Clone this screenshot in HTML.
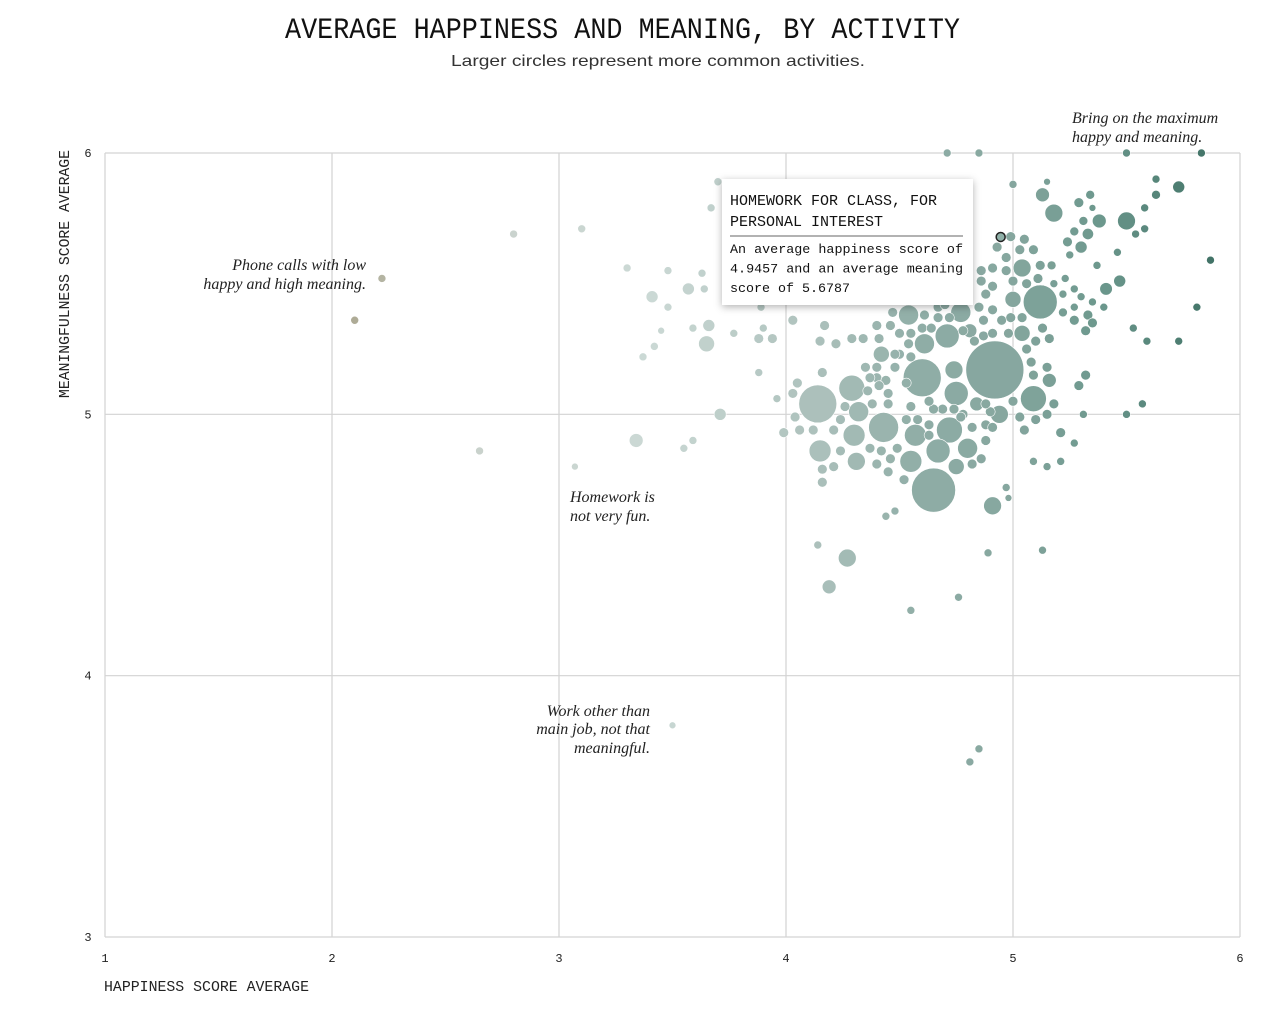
<!DOCTYPE html>
<html><head><meta charset="utf-8">
<style>
html,body{margin:0;padding:0;background:#fff;}
svg{display:block;}
.mono{font-family:"Liberation Mono",monospace;}
.sans{font-family:"Liberation Sans",sans-serif;}
.serif{font-family:"Liberation Serif",serif;font-style:italic;}
</style></head>
<body>
<svg id="chart" width="1280" height="1010" viewBox="0 0 1280 1010" xmlns="http://www.w3.org/2000/svg">
  <text class="mono" x="285" y="38" font-size="30" textLength="675" lengthAdjust="spacingAndGlyphs" fill="#111">AVERAGE HAPPINESS AND MEANING, BY ACTIVITY</text>
  <text class="sans" x="658" y="66" font-size="16" text-anchor="middle" fill="#333" textLength="414" lengthAdjust="spacingAndGlyphs">Larger circles represent more common activities.</text>
  <g id="grid"></g>
  <g id="ticks"></g>
  <text class="mono" font-size="14.5" fill="#222" transform="translate(69,398) rotate(-90)" textLength="248" lengthAdjust="spacingAndGlyphs">MEANINGFULNESS SCORE AVERAGE</text>
  <text class="mono" font-size="14.5" fill="#222" x="104" y="991" textLength="205" lengthAdjust="spacingAndGlyphs">HAPPINESS SCORE AVERAGE</text>
  <g id="dots"></g>
  <g class="serif" font-size="16" fill="#222" text-anchor="end">
    <text x="366" y="270">Phone calls with low</text>
    <text x="366" y="289">happy and high meaning.</text>
  </g>
  <g class="serif" font-size="16" fill="#222">
    <text x="1072" y="123">Bring on the maximum</text>
    <text x="1072" y="142">happy and meaning.</text>
  </g>
  <g class="serif" font-size="16" fill="#222">
    <text x="570" y="502">Homework is</text>
    <text x="570" y="521">not very fun.</text>
  </g>
  <g class="serif" font-size="16" fill="#222" text-anchor="end">
    <text x="650" y="716">Work other than</text>
    <text x="650" y="734">main job, not that</text>
    <text x="650" y="753">meaningful.</text>
  </g>
  <g id="tooltip"></g>
</svg>
<script>
const xTicks = [1, 2, 3, 4, 5, 6];
const yTicks = [3, 4, 5, 6];
const happiness = [
4.92,4.60,4.65,4.14,4.43,4.29,4.32,4.30,4.15,4.31,5.12,5.09,4.72,4.57,4.67,4.75,4.71,4.61,4.55,4.80,
4.74,4.54,5.04,5.00,4.42,4.81,4.94,4.84,4.91,5.04,4.77,5.16,5.18,5.50,4.27,4.19,3.34,3.41,3.65,3.66,
3.57,3.71,
2.22,2.10,2.80,3.10,2.65,3.07,3.48,3.30,3.48,3.45,3.42,3.37,3.63,3.64,3.59,3.55,3.59,3.88,3.96,4.03,
3.77,3.88,3.94,3.50,4.14,4.44,4.48,4.55,4.76,4.89,5.13,4.81,4.85,4.71,4.85,5.50,5.83,3.70,3.67,5.00,
5.53,5.59,5.73,5.57,5.50,5.31,5.27,5.21,5.15,5.09,4.97,4.98,3.89,
5.15,5.13,5.29,5.34,5.35,5.31,5.38,5.27,5.33,5.24,5.30,5.25,5.46,5.37,5.17,5.58,5.63,5.63,5.73,5.58,
5.54,5.87,5.81,5.47,5.41,5.40,5.35,5.30,5.27,5.22,5.18,5.23,5.27,5.33,5.22,
4.03,4.17,4.15,4.22,4.29,4.34,4.41,4.40,4.46,4.47,4.50,4.54,4.50,4.55,4.55,4.60,4.64,4.61,4.67,4.72,
4.67,4.70,4.78,4.83,4.87,4.91,4.98,4.95,4.99,5.04,4.87,4.91,4.85,4.88,4.91,4.86,4.86,4.91,4.97,4.97,
5.00,5.06,5.11,5.12,5.09,5.05,4.99,4.93,5.03,5.27,5.32,5.35,5.13,5.16,5.10,5.06,5.08,5.15,5.09,5.18,
5.15,5.10,5.05,5.03,5.00,4.88,4.90,4.88,4.78,4.74,4.69,4.65,4.63,4.77,4.82,4.88,4.91,4.55,4.53,4.58,
4.63,4.63,4.53,4.48,4.48,4.40,4.40,4.35,4.37,4.44,4.36,4.38,4.45,4.41,4.45,4.26,4.24,4.21,4.12,4.06,
3.99,4.03,4.05,4.04,4.16,4.37,4.42,4.24,4.46,4.40,4.49,4.45,4.52,4.16,4.16,4.21,4.82,4.86,5.21,5.29,
5.32,3.90,4.75
];
const meaning = [
5.17,5.14,4.71,5.04,4.95,5.10,5.01,4.92,4.86,4.82,5.43,5.06,4.94,4.92,4.86,5.08,5.30,5.27,4.82,4.87,
5.17,5.38,5.56,5.44,5.23,5.32,5.00,5.04,4.65,5.31,5.39,5.13,5.77,5.74,4.45,4.34,4.90,5.45,5.27,5.34,
5.48,5.00,
5.52,5.36,5.69,5.71,4.86,4.80,5.55,5.56,5.41,5.32,5.26,5.22,5.54,5.48,5.33,4.87,4.90,5.16,5.06,5.36,
5.31,5.29,5.29,3.81,4.50,4.61,4.63,4.25,4.30,4.47,4.48,3.67,3.72,6.00,6.00,6.00,6.00,5.89,5.79,5.88,
5.33,5.28,5.28,5.04,5.00,5.00,4.89,4.82,4.80,4.82,4.72,4.68,5.41,
5.89,5.84,5.81,5.84,5.79,5.74,5.74,5.70,5.69,5.66,5.64,5.61,5.62,5.57,5.57,5.79,5.90,5.84,5.87,5.71,
5.69,5.59,5.41,5.51,5.48,5.41,5.43,5.45,5.48,5.46,5.50,5.52,5.41,5.38,5.39,
5.36,5.34,5.28,5.27,5.29,5.29,5.29,5.34,5.34,5.39,5.31,5.27,5.23,5.22,5.31,5.33,5.33,5.38,5.37,5.37,
5.41,5.42,5.32,5.28,5.30,5.31,5.31,5.36,5.37,5.37,5.36,5.40,5.41,5.46,5.49,5.51,5.55,5.56,5.60,5.55,
5.51,5.50,5.52,5.57,5.63,5.67,5.68,5.64,5.63,5.36,5.32,5.35,5.33,5.29,5.28,5.25,5.20,5.18,5.15,5.04,
5.00,4.98,4.94,4.99,5.05,4.96,5.01,5.04,5.00,5.02,5.02,5.02,5.05,4.99,4.95,4.90,4.95,5.03,4.98,4.98,
4.96,4.92,5.12,5.18,5.23,5.18,5.14,5.18,5.14,5.13,5.09,5.04,5.04,5.11,5.08,5.03,4.98,4.94,4.94,4.94,
4.93,5.08,5.12,4.99,5.16,4.87,4.86,4.86,4.83,4.81,4.87,4.78,4.75,4.79,4.74,4.80,4.81,4.83,4.93,5.11,
5.15,5.33,4.80
];
const frequency = [
210,90,121,90,56,42,25,30,30,20,72,42,42,30,36,36,36,25,30,25,
20,25,20,16,16,12,20,12,20,16,25,12,20,20,20,12,12,9,16,9,
9,9,
4,4,4,4,4,3,4,4,4,3,4,4,4,4,4,4,4,4,4,4,
4,6,6,3,4,4,4,4,4,4,4,4,4,4,4,4,4,4,4,4,
4,4,4,4,4,4,4,4,4,4,4,3,4,
3,12,6,5,3,5,12,5,8,6,9,4,4,4,5,4,4,5,9,4,
4,4,4,9,10,4,4,4,4,4,4,4,4,6,5,
6,6,6,6,6,6,6,6,6,6,6,6,6,6,6,6,6,6,6,6,
6,6,6,6,6,6,6,6,6,6,6,6,6,6,6,6,6,6,6,6,
6,6,6,6,6,6,6,6,6,6,6,6,6,6,6,6,6,6,6,6,
6,6,6,6,6,6,6,6,6,6,6,6,6,6,6,6,6,6,6,6,
6,6,6,6,6,6,6,6,6,6,6,6,6,6,6,6,6,6,6,6,
6,6,6,6,6,6,6,6,6,6,6,6,6,6,6,6,6,6,6,6,
6,4,16
];
const highlightHappiness = 4.9457;
const highlightMeaning = 5.6787;
const tooltipTitle = ["HOMEWORK FOR CLASS, FOR", "PERSONAL INTEREST"];
const tooltipBody = ["An average happiness score of", "4.9457 and an average meaning", "score of 5.6787"];

const NS = "http://www.w3.org/2000/svg";
const X0 = 105, X1 = 1240, Y0 = 937, Y1 = 153;
function xScale(v){ return X0 + (v - 1) / 5 * (X1 - X0); }
function yScale(v){ return Y0 - (v - 3) / 3 * (Y0 - Y1); }
function rScale(c){ return 2 * Math.sqrt(c); }
const stopsH = [2.0, 2.6, 3.4, 4.1, 4.6, 5.0, 5.4, 5.9];
const stopsC = [[168,163,139],[201,209,203],[203,217,213],[174,194,189],[143,173,166],[133,166,158],[107,151,140],[63,113,101]];
function colorFor(h){
  if (h <= stopsH[0]) return "rgb(" + stopsC[0].join(",") + ")";
  for (let i = 1; i < stopsH.length; i++) {
    if (h <= stopsH[i]) {
      const t = (h - stopsH[i-1]) / (stopsH[i] - stopsH[i-1]);
      const c = stopsC[i-1].map((a, k) => Math.round(a + (stopsC[i][k] - a) * t));
      return "rgb(" + c.join(",") + ")";
    }
  }
  return "rgb(" + stopsC[stopsC.length-1].join(",") + ")";
}
function mk(tag, attrs, parent){
  const e = document.createElementNS(NS, tag);
  for (const k in attrs) e.setAttribute(k, attrs[k]);
  parent.appendChild(e);
  return e;
}
const grid = document.getElementById("grid");
const ticks = document.getElementById("ticks");
xTicks.forEach(t => {
  const l = mk("line", {x1: xScale(t), x2: xScale(t), y1: Y1, y2: Y0, stroke: "#d3d3d3", "stroke-width": 1.2}, grid);
  
  
  const tx = mk("text", {x: xScale(t), y: 962, "font-size": 12, "text-anchor": "middle", fill: "#222", class: "mono"}, ticks);
  tx.textContent = t;
  
  
});
yTicks.forEach(t => {
  const l = mk("line", {x1: X0, x2: X1, y1: yScale(t), y2: yScale(t), stroke: "#d3d3d3", "stroke-width": 1.2}, grid);
  
  
  const tx = mk("text", {x: 88, y: yScale(t) + 4, "font-size": 12, "text-anchor": "middle", fill: "#222", class: "mono"}, ticks);
  tx.textContent = t;
  
  
});
const dots = document.getElementById("dots");
const n = Math.min(happiness.length, meaning.length, frequency.length);
for (let i = 0; i < n; i++) {
  const c = mk("circle", {cx: xScale(happiness[i]), cy: yScale(meaning[i]), r: rScale(frequency[i]), fill: colorFor(happiness[i]), stroke: "#fff", "stroke-width": 0.6}, dots);
  
  
}
const hl = mk("circle", {cx: xScale(highlightHappiness), cy: yScale(highlightMeaning), r: 4.5, fill: "#8fb0a8", stroke: "#222", "stroke-width": 1.5}, dots);



const tip = document.getElementById("tooltip");
const defs = mk("defs", {}, tip);
const f = mk("filter", {id: "sh", x: "-10%", y: "-10%", width: "120%", height: "130%"}, defs);
mk("feDropShadow", {dx: 0, dy: 2, stdDeviation: 4, "flood-color": "#000", "flood-opacity": 0.3}, f);
const box = mk("rect", {x: 722, y: 179, width: 251, height: 126, fill: "#fff", filter: "url(#sh)"}, tip);


tooltipTitle.forEach((s, i) => {
  const t = mk("text", {x: 730, y: 205 + i * 21, "font-size": 15, fill: "#111", class: "mono"}, tip);
  t.textContent = s;
  
  
});
const sep = mk("line", {x1: 730, x2: 963, y1: 236, y2: 236, stroke: "#666", "stroke-width": 1}, tip);


tooltipBody.forEach((s, i) => {
  const t = mk("text", {x: 730, y: 253 + i * 19.5, "font-size": 13, fill: "#111", class: "mono", textLength: i < 2 ? 233 : 120, lengthAdjust: "spacingAndGlyphs"}, tip);
  t.textContent = s;
  
  
});
</script>
</body></html>
